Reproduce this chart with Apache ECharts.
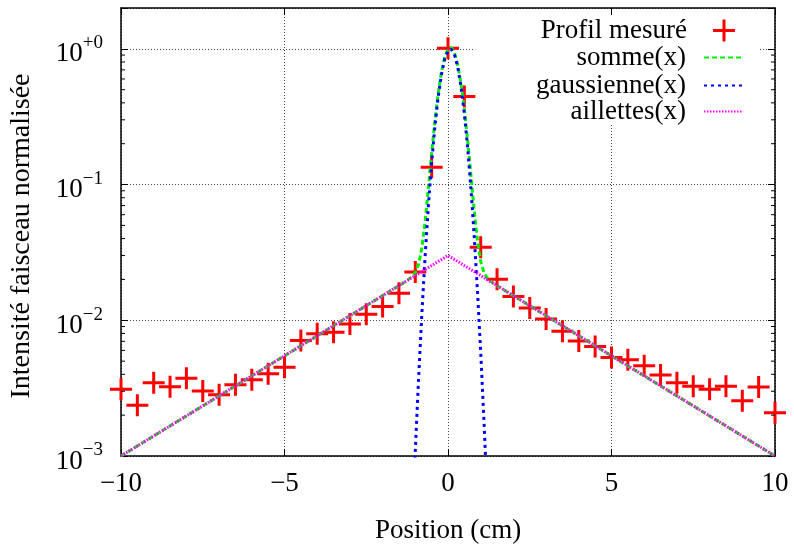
<!DOCTYPE html>
<html>
<head>
<meta charset="utf-8">
<script src="https://cdn.jsdelivr.net/npm/echarts@6/dist/echarts.min.js"></script>
<style>
  html, body { margin: 0; padding: 0; background: #fff; }
  #chart { width: 794px; height: 549px; }
</style>
</head>
<body>
<div id="chart"></div>
<script>
// measured profile, one point every 0.5 cm
var positions = [-10, -9.5, -9, -8.5, -8, -7.5, -7, -6.5, -6, -5.5, -5, -4.5, -4, -3.5, -3, -2.5, -2, -1.5, -1, -0.5,
  0, 0.5, 1, 1.5, 2, 2.5, 3, 3.5, 4, 4.5, 5, 5.5, 6, 6.5, 7, 7.5, 8, 8.5, 9, 9.5, 10];
var profil = [0.0031, 0.00237, 0.00346, 0.00324, 0.00374, 0.00301, 0.00283, 0.00335, 0.00364, 0.00403, 0.0045,
  0.00711, 0.00795, 0.00818, 0.0094, 0.0111, 0.01264, 0.0158, 0.0227, 0.134,
  1.01, 0.445, 0.0345, 0.0201, 0.01495, 0.0123, 0.0102, 0.0083, 0.00703, 0.0064,
  0.00532, 0.00512, 0.00463, 0.00396, 0.00347, 0.00327, 0.0031, 0.00327, 0.00255, 0.00322, 0.00208];

// fitted curves
var sommeX = [-10, -1.4, -1.2, -1.1, -1.0, -0.9, -0.8, -0.7, -0.6, -0.5, -0.4, -0.3, -0.2, -0.1, 0,
  0.1, 0.2, 0.3, 0.4, 0.5, 0.6, 0.7, 0.8, 0.9, 1.0, 1.1, 1.2, 1.4, 10];
var sommeY = [0.001, 0.0186, 0.0201, 0.0209, 0.0225, 0.0258, 0.034, 0.0531, 0.0938, 0.170, 0.295, 0.470, 0.676, 0.871, 1.0,
  1.024, 0.932, 0.757, 0.549, 0.358, 0.2125, 0.118, 0.065, 0.0387, 0.0272, 0.0224, 0.0205, 0.0186, 0.001];

var gaussX = [-1.2, -1.1, -1.0, -0.9, -0.8, -0.7, -0.6, -0.5, -0.4, -0.3, -0.2, -0.1, 0,
  0.1, 0.2, 0.3, 0.4, 0.5, 0.6, 0.7, 0.8, 0.9, 1.0, 1.1, 1.2, 1.3];
var gaussY = [0.00007, 0.0003, 0.0011, 0.0037, 0.0111, 0.0295, 0.0693, 0.145, 0.269, 0.443, 0.648, 0.842, 0.971,
  0.995, 0.904, 0.730, 0.523, 0.333, 0.188, 0.0944, 0.0421, 0.0166, 0.00585, 0.00182, 0.0005, 0.0001];

var ailletX = [-10, 0, 10];
var ailletY = [0.001, 0.03, 0.001];

var minorTicks = [0.002, 0.003, 0.004, 0.005, 0.006, 0.007, 0.008, 0.009,
  0.02, 0.03, 0.04, 0.05, 0.06, 0.07, 0.08, 0.09,
  0.2, 0.3, 0.4, 0.5, 0.6, 0.7, 0.8, 0.9];

var FONT = 'Liberation Serif';
var plusPath = 'path://M0,9.5H9.5V0H12.5V9.5H22V12.5H12.5V22H9.5V12.5H0Z';

function zip(xs, ys) {
  return xs.map(function (x, i) { return [x, ys[i]]; });
}

var myChart = echarts.init(document.getElementById('chart'));

var gridLine = { show: true, lineStyle: { color: '#444', width: 1, type: [1, 2] } };
var border = { show: true, onZero: false, lineStyle: { color: '#000', width: 1.5 } };

function legendRow(name, top, opts) {
  var l = {
    data: [name],
    orient: 'vertical',
    align: 'right',
    right: 51,
    top: top,
    padding: 0,
    itemWidth: 38,
    itemHeight: 14,
    selectedMode: false,
    itemStyle: { opacity: 0 },
    textStyle: { fontFamily: FONT, fontSize: 27, color: '#000', padding: [0, 13, 0, 0] }
  };
  for (var k in opts) l[k] = opts[k];
  return l;
}

var option = {
  animation: false,
  backgroundColor: '#fff',
  grid: { left: 120, right: 19, top: 8, bottom: 86 },
  graphic: [{
    // opaque key box hiding the grid lines
    type: 'rect', z: 1,
    shape: { x: 474, y: 16, width: 284, height: 109 },
    style: { fill: '#fff' }
  }],
  legend: [
    legendRow('Profil mesuré', 17, {
      itemWidth: 22, itemHeight: 22, right: 59, icon: plusPath,
      itemStyle: { opacity: 1 },
      textStyle: { fontFamily: FONT, fontSize: 27, color: '#000', padding: [0, 21, 0, 0] }
    }),
    legendRow('somme(x)', 44),
    legendRow('gaussienne(x)', 72),
    legendRow('aillettes(x)', 98)
  ],
  xAxis: [{
    type: 'value', min: -10, max: 10, interval: 5, position: 'bottom',
    axisLine: border,
    axisTick: { show: true, inside: true, length: 7, lineStyle: { color: '#000' } },
    axisLabel: {
      fontFamily: FONT, fontSize: 27, color: '#000', margin: 14,
      formatter: function (v) { return String(v).replace('-', '\u2212'); }
    },
    splitLine: gridLine,
    name: 'Position (cm)', nameLocation: 'middle', nameGap: 61,
    nameTextStyle: { fontFamily: FONT, fontSize: 27, color: '#000' }
  }, {
    type: 'value', min: -10, max: 10, interval: 5, position: 'top',
    axisLine: border,
    axisTick: { show: true, inside: true, length: 7, lineStyle: { color: '#000' } },
    axisLabel: { show: false },
    splitLine: { show: false }
  }],
  yAxis: [{
    type: 'log', logBase: 10, min: 0.001, max: 2, position: 'left',
    axisLine: border,
    axisTick: { show: true, inside: true, length: 7, lineStyle: { color: '#000' } },
    axisLabel: {
      margin: 18,
      padding: [4, 0, 0, 0],
      formatter: function (v) {
        var lg = Math.log10(v);
        var e = Math.round(lg);
        if (Math.abs(lg - e) > 1e-6) return '';
        var s = e === 0 ? '+0' : '\u2212' + (-e);
        return '{b|10}{s|' + s + '}';
      },
      rich: {
        b: { fontFamily: FONT, fontSize: 27, color: '#000', lineHeight: 34, verticalAlign: 'bottom' },
        s: { fontFamily: FONT, fontSize: 19, color: '#000', lineHeight: 34, verticalAlign: 'top' }
      }
    },
    splitLine: gridLine,
    name: 'Intensité faisceau normalisée', nameLocation: 'middle', nameGap: 85, nameRotate: 90,
    nameTextStyle: { fontFamily: FONT, fontSize: 28, color: '#000', padding: [0, 8, 0, 0] }
  }, {
    type: 'log', logBase: 10, min: 0.001, max: 2, position: 'right',
    axisLine: border,
    axisTick: { show: true, inside: true, length: 7, lineStyle: { color: '#000' } },
    axisLabel: { show: false },
    splitLine: { show: false }
  }],
  series: [{
    name: 'Profil mesuré',
    type: 'scatter',
    data: zip(positions, profil),
    symbol: plusPath,
    symbolSize: 22,
    clip: false,
    itemStyle: { color: '#ff0000', opacity: 1 },
    z: 2
  }, {
    name: 'somme(x)',
    type: 'line',
    data: zip(sommeX, sommeY),
    showSymbol: false, symbol: 'none',
    lineStyle: { color: '#00ee00', width: 3, type: [5, 3] },
    itemStyle: { color: '#00ee00' },
    z: 3
  }, {
    name: 'gaussienne(x)',
    type: 'line',
    data: zip(gaussX, gaussY),
    showSymbol: false, symbol: 'none',
    lineStyle: { color: '#0000ff', width: 3, type: [3, 4] },
    itemStyle: { color: '#0000ff' },
    z: 4
  }, {
    name: 'aillettes(x)',
    type: 'line',
    data: zip(ailletX, ailletY),
    showSymbol: false, symbol: 'none',
    lineStyle: { color: '#ff00ff', width: 3, type: [1.5, 1.5] },
    itemStyle: { color: '#ff00ff' },
    z: 5
  }, {
    // minor ticks of the log axis on both sides
    type: 'custom',
    silent: true,
    clip: false,
    data: minorTicks.map(function (v) { return [-10, v]; }),
    renderItem: function (params, api) {
      var l = api.coord([-10, api.value(1)]);
      var r = api.coord([10, api.value(1)]);
      var st = { stroke: '#000', lineWidth: 1 };
      return {
        type: 'group',
        children: [
          { type: 'line', shape: { x1: l[0], y1: l[1], x2: l[0] + 4, y2: l[1] }, style: st },
          { type: 'line', shape: { x1: r[0] - 4, y1: r[1], x2: r[0], y2: r[1] }, style: st }
        ]
      };
    },
    z: 6
  }]
};

myChart.setOption(option);
</script>
</body>
</html>
